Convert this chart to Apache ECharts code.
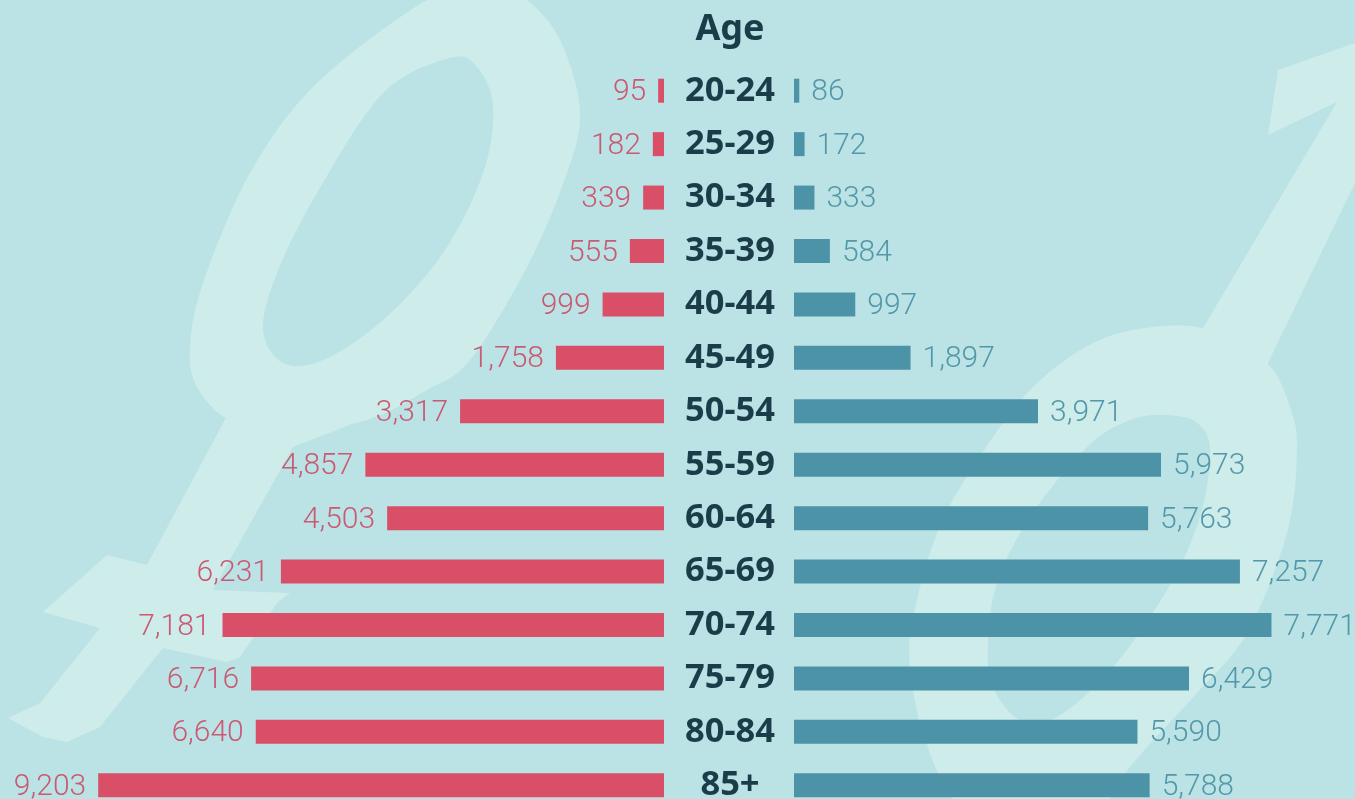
<!DOCTYPE html>
<html>
<head>
<meta charset="utf-8">
<style>
  html, body { margin: 0; padding: 0; background: #bbe3e5; overflow: hidden; }
  #chart { width: 1355px; height: 799px; }
</style>
<script src="https://cdn.jsdelivr.net/npm/echarts@6/dist/echarts.min.js"></script>
</head>
<body>
<div id="chart"></div>
<script>
const ageGroups = ['20-24', '25-29', '30-34', '35-39', '40-44', '45-49', '50-54', '55-59', '60-64', '65-69', '70-74', '75-79', '80-84', '85+']
const femaleDeaths = [95, 182, 339, 555, 999, 1758, 3317, 4857, 4503, 6231, 7181, 6716, 6640, 9203]
const maleDeaths = [86, 172, 333, 584, 997, 1897, 3971, 5973, 5763, 7257, 7771, 6429, 5590, 5788]

const BG = '#bbe3e5'
const RED = '#d94f68'
const RED_TEXT = '#c95a72'
const TEAL = '#4c93a8'
const TEAL_TEXT = '#5398aa'
const DARK = '#1b3d49'
const SYMBOL = '#cdecea'

// faint gender symbols behind the bars, rings get rounded, the rest stays straight
const femaleRing = [[427, 0], [490, -16], [527, 0], [560, 40], [580, 110], [567, 173], [527, 267], [470, 360], [427, 390], [367, 420], [293, 432], [230, 420], [197, 387], [190, 347], [203, 283], [250, 173], [317, 83]]
const femaleHole = [[450, 58], [477, 67], [493, 107], [483, 173], [443, 253], [383, 320], [323, 360], [283, 363], [263, 330], [277, 273], [317, 193], [383, 93]]
const femaleStem = [[230, 410], [350, 425], [293, 447], [213, 590], [290, 593], [277, 603], [240, 657], [227, 662], [163, 648], [100, 727], [67, 742], [43, 737], [8, 718], [40, 703], [100, 628], [43, 612], [107, 555], [147, 565]]
const maleRing = [[1153, 327], [1093, 343], [1030, 390], [973, 467], [937, 533], [913, 617], [910, 667], [923, 733], [953, 799], [1010, 850], [1080, 840], [1130, 767], [1197, 693], [1247, 633], [1287, 533], [1297, 450], [1290, 407], [1267, 363], [1210, 330]]
const maleHole = [[1167, 415], [1197, 423], [1210, 450], [1200, 517], [1167, 590], [1113, 667], [1057, 717], [1020, 720], [993, 687], [988, 643], [997, 583], [1030, 517], [1087, 447], [1130, 420]]
const maleArrow = [[1203, 328], [1337, 102], [1268, 135], [1278, 70], [1355, 43], [1355, 183], [1267, 365], [1230, 340]]

// closed catmull-rom through the outline points
const rounded = points => {
  const out = []
  const n = points.length
  for (let i = 0; i < n; i++) {
    const [p0, p1, p2, p3] = [points[(i + n - 1) % n], points[i], points[(i + 1) % n], points[(i + 2) % n]]
    for (let s = 0; s < 8; s++) {
      const t = s / 8
      out.push([0, 1].map(k => 0.5 * (2 * p1[k] + (p2[k] - p0[k]) * t + (2 * p0[k] - 5 * p1[k] + 4 * p2[k] - p3[k]) * t * t + (3 * p1[k] - p0[k] - 3 * p2[k] + p3[k]) * t * t * t)))
    }
  }
  return out
}

const symbolShape = (points, fill, z) => ({
  type: 'polygon',
  silent: true,
  z: z,
  shape: { points: points },
  style: { fill: fill }
})

const chart = echarts.init(document.getElementById('chart'))

const option = {
  backgroundColor: BG,
  animation: false,
  graphic: [
    symbolShape(rounded(femaleRing), SYMBOL, 0),
    symbolShape(femaleStem, SYMBOL, 0),
    symbolShape(rounded(femaleHole), BG, 1),
    symbolShape(rounded(maleRing), SYMBOL, 0),
    symbolShape(maleArrow, SYMBOL, 0),
    symbolShape(rounded(maleHole), BG, 1)
  ],
  title: {
    text: 'Age',
    left: 725,
    top: 7,
    textAlign: 'center',
    textStyle: { fontFamily: 'Noto Sans', fontWeight: 'bold', fontSize: 36, color: DARK }
  },
  grid: [
    { left: 0, top: 64, width: 664, height: 748, outerBoundsMode: 'none' },
    { left: 794, top: 64, width: 553, height: 748, outerBoundsMode: 'none' }
  ],
  xAxis: [
    { type: 'value', gridIndex: 0, inverse: true, min: 0, max: 10800, show: false },
    { type: 'value', gridIndex: 1, min: 0, max: 9000, show: false }
  ],
  yAxis: [
    {
      type: 'category',
      gridIndex: 0,
      data: ageGroups,
      inverse: true,
      position: 'right',
      axisLine: { show: false },
      axisTick: { show: false },
      axisLabel: {
        margin: 66,
        align: 'center',
        padding: [4, 0, 0, 0],
        fontFamily: 'Noto Sans',
        fontWeight: 'bold',
        fontSize: 34.5,
        color: DARK
      }
    },
    { type: 'category', gridIndex: 1, data: ageGroups, inverse: true, show: false }
  ],
  series: [
    {
      name: 'Female',
      type: 'bar',
      xAxisIndex: 0,
      yAxisIndex: 0,
      z: 3,
      data: femaleDeaths,
      barWidth: 24,
      itemStyle: { color: RED },
      label: {
        show: true,
        position: 'left',
        distance: 12,
        offset: [0, 2],
        fontFamily: 'Roboto',
        fontWeight: 300,
        fontSize: 30,
        color: RED_TEXT,
        formatter: p => p.value.toLocaleString('en-US')
      }
    },
    {
      name: 'Male',
      type: 'bar',
      xAxisIndex: 1,
      yAxisIndex: 1,
      z: 3,
      data: maleDeaths,
      barWidth: 24,
      itemStyle: { color: TEAL },
      label: {
        show: true,
        position: 'right',
        distance: 12,
        offset: [0, 2],
        fontFamily: 'Roboto',
        fontWeight: 300,
        fontSize: 30,
        color: TEAL_TEXT,
        formatter: p => p.value.toLocaleString('en-US')
      }
    }
  ]
}

chart.setOption(option)
</script>
</body>
</html>
